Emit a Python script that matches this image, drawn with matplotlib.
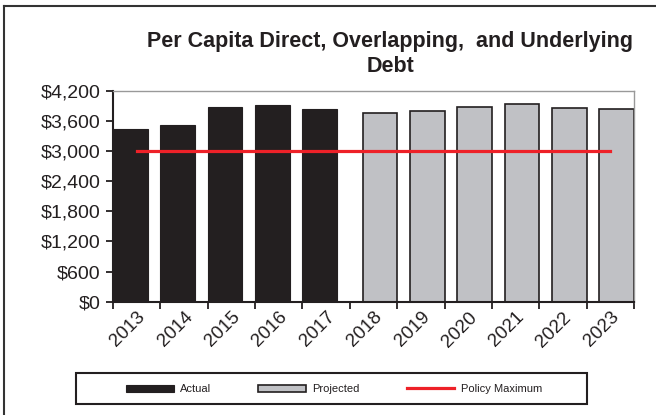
import matplotlib
matplotlib.use("Agg")
import matplotlib.pyplot as plt
from matplotlib.lines import Line2D
from matplotlib.patches import Rectangle
from matplotlib.ticker import FuncFormatter

plt.rcParams['font.family'] = ['Liberation Sans', 'DejaVu Sans']

years = ['2013', '2014', '2015', '2016', '2017', '2018', '2019', '2020', '2021', '2022', '2023']
actual = [3430, 3510, 3880, 3920, 3840]
projected = [3760, 3795, 3870, 3940, 3860, 3830]
policy_max = [3000] * 11
y_ticks = [0, 600, 1200, 1800, 2400, 3000, 3600, 4200]

fig = plt.figure(figsize=(6.56, 4.15), dpi=100)
ax = fig.add_axes([113/656, 1 - 301.7/415, 521/656, 211/415])

n_act = len(actual)
act_x = list(range(n_act))
proj_x = [i + 1 for i in range(n_act, len(years))]
bw = 0.73
h1 = ax.bar(act_x, actual, width=bw, align='edge', color='#231f20', edgecolor='#231f20',
            linewidth=0.8, label='Actual', zorder=2)
h2 = ax.bar(proj_x, projected, width=-bw, align='edge', color='#c0c1c5', edgecolor='#231f20',
            linewidth=1.2, label='Projected', zorder=2)
centers = [i + 0.5 for i in range(len(years))]
h3, = ax.plot(centers, policy_max, color='#ee2128', linewidth=2.3, label='Policy Maximum', zorder=3)

ax.set_xlim(0, len(years))
ax.set_ylim(0, 4200)
ax.set_yticks(y_ticks)
ax.yaxis.set_major_formatter(FuncFormatter(lambda v, p: '${:,.0f}'.format(v)))
ax.set_xticks(range(len(years) + 1))
ax.set_xticklabels([''] * (len(years) + 1))
ax.set_xticks(centers, minor=True)
ax.set_xticklabels(years, minor=True, rotation=45, ha='right', va='top',
                   rotation_mode='anchor', fontsize=13.5, color='#231f20')
ax.tick_params(axis='x', which='minor', length=0, pad=5)
ax.tick_params(axis='x', which='major', length=5, width=1.3, color='#231f20')
ax.tick_params(axis='y', length=5, width=1.3, color='#231f20', labelsize=14,
               labelcolor='#231f20', pad=4)

for s in ['top', 'right']:
    ax.spines[s].set_color('#999999')
    ax.spines[s].set_linewidth(1.0)
for s in ['left', 'bottom']:
    ax.spines[s].set_color('#231f20')
    ax.spines[s].set_linewidth(1.5)

fig.text(390/656, 1 - 54/415, 'Per Capita Direct, Overlapping,  and Underlying\nDebt',
         ha='center', va='center', fontsize=15.5, fontweight='bold', color='#231f20',
         linespacing=1.25)

leg = fig.legend(handles=[h1, h2, h3], labels=['Actual', 'Projected', 'Policy Maximum'],
                 loc='center', bbox_to_anchor=(334/656, 1 - 389/415),
                 ncol=3, borderaxespad=0, fontsize=8, handlelength=4.3,
                 handleheight=0.6, handletextpad=0.6, columnspacing=4.2,
                 frameon=False, labelcolor='#231f20')

fig.add_artist(Rectangle((76/656, 1 - 404/415), 511/656, 31/415, transform=fig.transFigure,
                         fill=False, edgecolor='#231f20', linewidth=1.5))
fig.add_artist(Line2D([4/656, 4/656], [0, 1 - 6/415], transform=fig.transFigure,
                      color='#333333', linewidth=1.5))
fig.add_artist(Line2D([4/656, 1], [1 - 6/415, 1 - 6/415], transform=fig.transFigure,
                      color='#333333', linewidth=1.5))

fig.savefig('out.png', dpi=100)
